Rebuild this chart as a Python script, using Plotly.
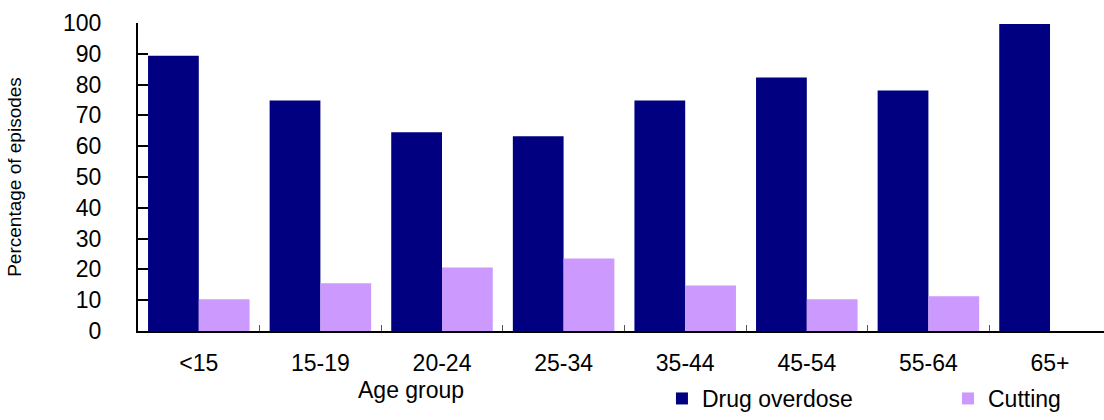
import plotly.graph_objects as go

categories = ["<15", "15-19", "20-24", "25-34", "35-44", "45-54", "55-64", "65+"]
drug_overdose = [89.4, 74.8, 64.5, 63.2, 74.8, 82.3, 78.1, 99.7]
cutting = [10.3, 15.5, 20.6, 23.5, 14.8, 10.3, 11.3, 0]

FONT = "Liberation Sans, Arial, sans-serif"
fig = go.Figure()
fig.add_trace(go.Bar(x=categories, y=drug_overdose, name="Drug overdose", legend="legend",
                     marker=dict(color="#000080", line=dict(width=0))))
fig.add_trace(go.Bar(x=categories, y=cutting, name="Cutting", legend="legend2",
                     marker=dict(color="#CC99FF", line=dict(width=0))))

legend_common = dict(orientation="h", yanchor="middle", y=-0.22, font=dict(size=23),
                     bgcolor="rgba(0,0,0,0)", xanchor="left")

fig.update_layout(
    width=1104, height=420,
    margin=dict(l=138, r=0, t=23, b=87),
    paper_bgcolor="white", plot_bgcolor="white",
    barmode="group", bargap=0.165, bargroupgap=0,
    font=dict(family=FONT, size=23, color="black"),
    showlegend=True,
    legend=dict(x=0.5424, **legend_common),
    legend2=dict(x=0.8385, **legend_common),
    xaxis=dict(range=[-0.5, 7.444], showline=True, linecolor="black", linewidth=2,
               ticks="inside", tickson="boundaries", ticklen=6, tickcolor="#555",
               showgrid=False, ticklabelstandoff=10, tickfont=dict(size=23)),
    yaxis=dict(range=[0, 100], dtick=10, showline=True, linecolor="black", linewidth=2,
               ticks="inside", ticklen=10, tickcolor="black", tickwidth=1.5,
               showgrid=False, zeroline=False, ticklabelstandoff=30,
               tickfont=dict(size=23),
               title=dict(text="Percentage of episodes", font=dict(size=19), standoff=36)),
    annotations=[dict(text="Age group", xref="paper", yref="paper",
                      x=0.2826, y=-0.19, xanchor="center", yanchor="middle",
                      showarrow=False, font=dict(size=23))],
)

fig.write_html("out.html", config={"displayModeBar": False},
               post_script="document.body.style.margin='0';")
